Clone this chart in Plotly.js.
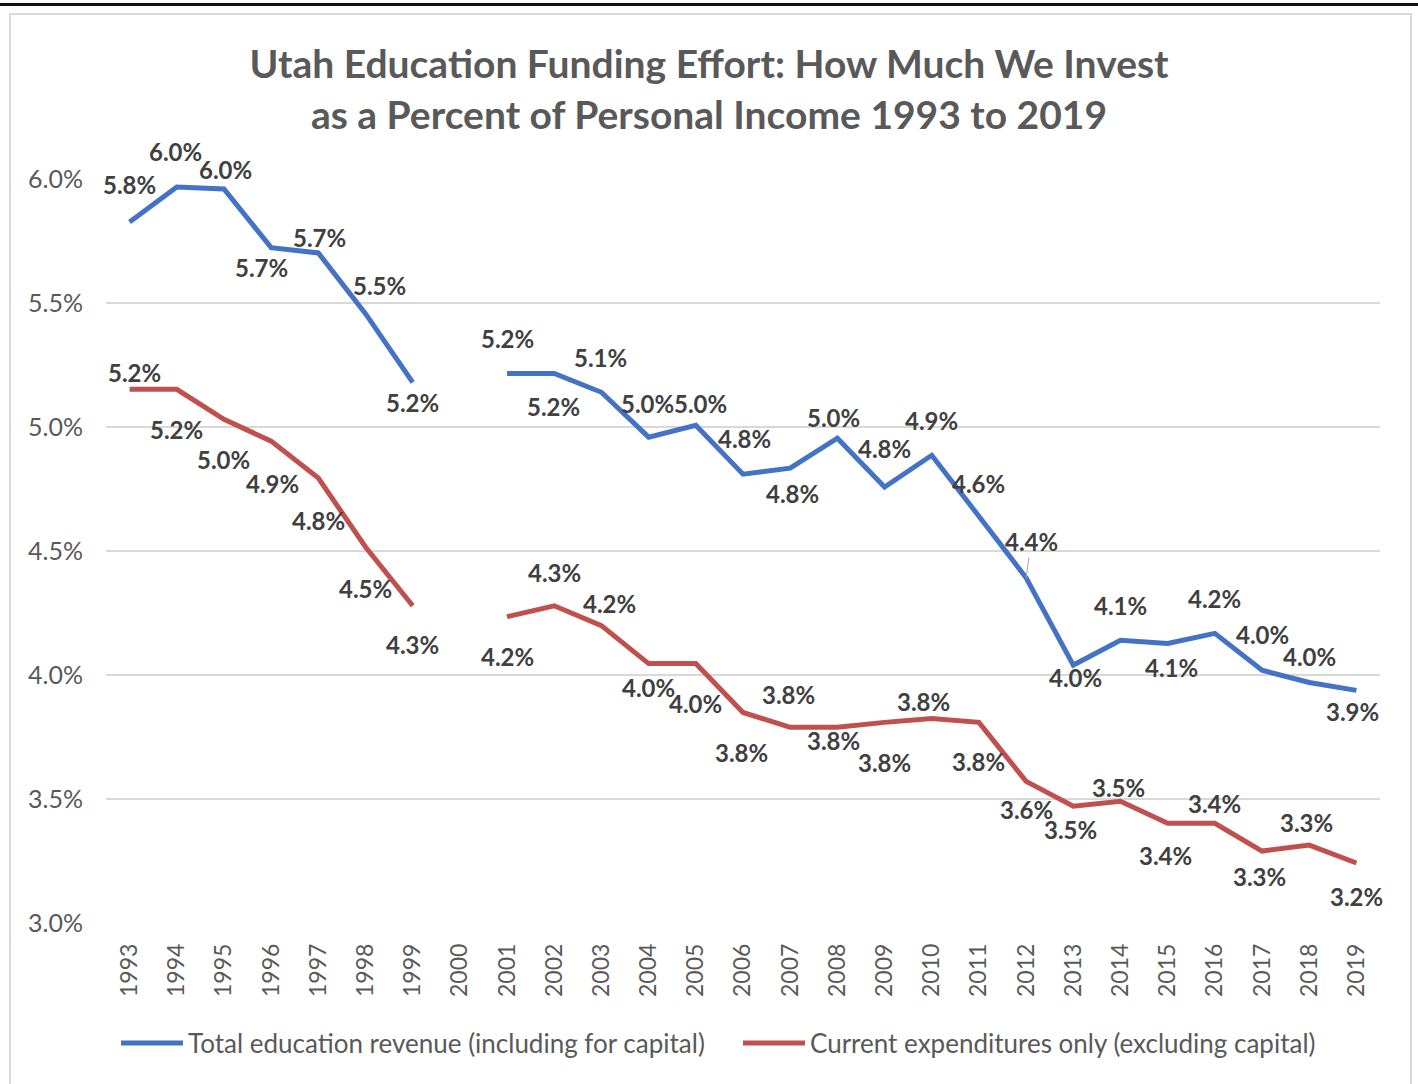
<!DOCTYPE html>
<html>
<head>
<meta charset="utf-8">
<script src="https://cdn.plot.ly/plotly-3.0.1.min.js"></script>
<style>
  html, body { margin: 0; padding: 0; background: #ffffff; }
  #wrap { position: relative; width: 1418px; height: 1084px; overflow: hidden; }
  #chart { position: absolute; left: 0; top: 0; width: 1418px; height: 1084px; }
  #topline { position: absolute; left: 0; top: 3px; width: 1418px; height: 3px; background: #111; pointer-events: none; }
  #box { position: absolute; left: 9px; top: 13px; width: 1399px; height: 1100px; border: 2px solid #d9d9d9; pointer-events: none; }
</style>
</head>
<body>
<div id="wrap">
  <div id="chart"></div>
  <div id="topline"></div>
  <div id="box"></div>
</div>
<script>
// ---- data ----
const years = ['1993','1994','1995','1996','1997','1998','1999','2000','2001','2002','2003','2004','2005',
               '2006','2007','2008','2009','2010','2011','2012','2013','2014','2015','2016','2017','2018','2019'];
const totalRevenue = [5.827, 5.968, 5.96, 5.723, 5.702, 5.457, 5.18, null, 5.216, 5.216, 5.14, 4.959, 5.007,
                      4.81, 4.834, 4.955, 4.758, 4.886, 4.64, 4.392, 4.04, 4.14, 4.127, 4.168, 4.019, 3.97, 3.938];
const currentExpenditures = [5.152, 5.152, 5.031, 4.943, 4.794, 4.516, 4.279, null, 4.235, 4.279, 4.199, 4.046, 4.046,
                             3.849, 3.789, 3.789, 3.809, 3.825, 3.809, 3.571, 3.471, 3.491, 3.402, 3.402, 3.29, 3.314, 3.242];
const seriesNames = ['Total education revenue (including for capital)', 'Current expenditures only (excluding capital)'];
const yTickVals = [3.0, 3.5, 4.0, 4.5, 5.0, 5.5, 6.0];

// ---- label placement (pixel offsets from each point; style only) ----
const blueLabelDx = [0,-1,2,-10,1,14,0,0,0,-1,-1,-1,5,1,2,-4,0,0,0,5,2,0,4,0,0,0,-4];
const blueLabelDy = [37,35,19,-20,15,28,-20,0,35,-33,35,34,22,36,-25,21,39,35,33,36,-12,35,-24,35,36,26,-21];
const blueLeader  = [0,0,0,0,0,0,0,0,0,0,0,0,0,0,0,0,0,0,0,1,0,0,0,0,0,0,0];
const redLabelDx  = [5,0,0,1,0,0,0,0,0,0,8,0,0,-2,-2,-4,0,-8,0,0,-3,-2,-2,0,-3,-3,0];
const redLabelDy  = [17,-40,-40,-42,-42,-41,-39,0,-40,33,22,-24,-40,-40,33,-13,-40,17,-39,-28,-23,14,-32,20,-25,23,-34];
const redLeader   = new Array(27).fill(0);

const BLUE = '#4472C4';
const RED = '#C0504D';
const FONT = 'Lato, "Open Sans", "DejaVu Sans", sans-serif';

const traces = [
  { type: 'scatter', mode: 'lines', name: seriesNames[0], x: years, y: totalRevenue,
    line: { color: BLUE, width: 5 }, connectgaps: false, hoverinfo: 'x+y' },
  { type: 'scatter', mode: 'lines', name: seriesNames[1], x: years, y: currentExpenditures,
    line: { color: RED, width: 5 }, connectgaps: false, hoverinfo: 'x+y' }
];

function makeLabels(vals, dxs, dys, leaders) {
  const out = [];
  for (let i = 0; i < vals.length; i++) {
    const v = vals[i];
    if (v === null) continue;
    const a = {
      x: i, y: v, xref: 'x', yref: 'y',
      text: v.toFixed(1) + '%',
      xanchor: 'center', yanchor: 'middle',
      font: { family: FONT, size: 24, color: '#404040', weight: 'bold' }
    };
    if (leaders[i]) {
      Object.assign(a, { showarrow: true, arrowhead: 0, arrowwidth: 1, arrowcolor: '#a6a6a6',
                         ax: dxs[i], ay: -dys[i], standoff: 0 });
    } else {
      Object.assign(a, { showarrow: false, xshift: dxs[i], yshift: dys[i] });
    }
    out.push(a);
  }
  return out;
}

const annotations = makeLabels(totalRevenue, blueLabelDx, blueLabelDy, blueLeader)
  .concat(makeLabels(currentExpenditures, redLabelDx, redLabelDy, redLeader));

const layout = {
  width: 1418, height: 1084,
  margin: { l: 106, r: 38, t: 178, b: 160 },
  paper_bgcolor: '#ffffff', plot_bgcolor: '#ffffff',
  font: { family: FONT, color: '#595959' },
  title: {
    text: 'Utah Education Funding Effort: How Much We Invest<br>as a Percent of Personal Income 1993 to 2019',
    font: { family: FONT, size: 39, color: '#595959', weight: 'bold' },
    x: 0.5, xanchor: 'center', xref: 'container',
    y: 1 - 78 / 1084, yanchor: 'top', yref: 'container'
  },
  xaxis: {
    type: 'category', range: [-0.5, 26.5], fixedrange: true,
    showgrid: false, zeroline: false, showline: false,
    tickangle: -90, ticks: '', ticklabelstandoff: 14,
    tickfont: { family: FONT, size: 23, color: '#595959' }
  },
  yaxis: {
    range: [2.996, 6.004], fixedrange: true,
    tickvals: yTickVals, ticktext: yTickVals.map(v => v.toFixed(1) + '%'),
    showgrid: true, gridcolor: '#d9d9d9', gridwidth: 1.5,
    zeroline: false, showline: false, ticks: '', ticklabelstandoff: 22,
    tickfont: { family: FONT, size: 25, color: '#595959' }
  },
  showlegend: true,
  legend: {
    orientation: 'h', x: 116 / 1418, xanchor: 'left', xref: 'container',
    y: 1 - 1043 / 1084, yanchor: 'middle', yref: 'container',
    font: { family: FONT, size: 26, color: '#595959' },
    itemwidth: 62, entrywidth: 545, entrywidthmode: 'pixels',
    bgcolor: 'rgba(0,0,0,0)'
  },
  annotations: annotations
};

Plotly.newPlot('chart', traces, layout, { displayModeBar: false, staticPlot: true });
</script>
</body>
</html>
